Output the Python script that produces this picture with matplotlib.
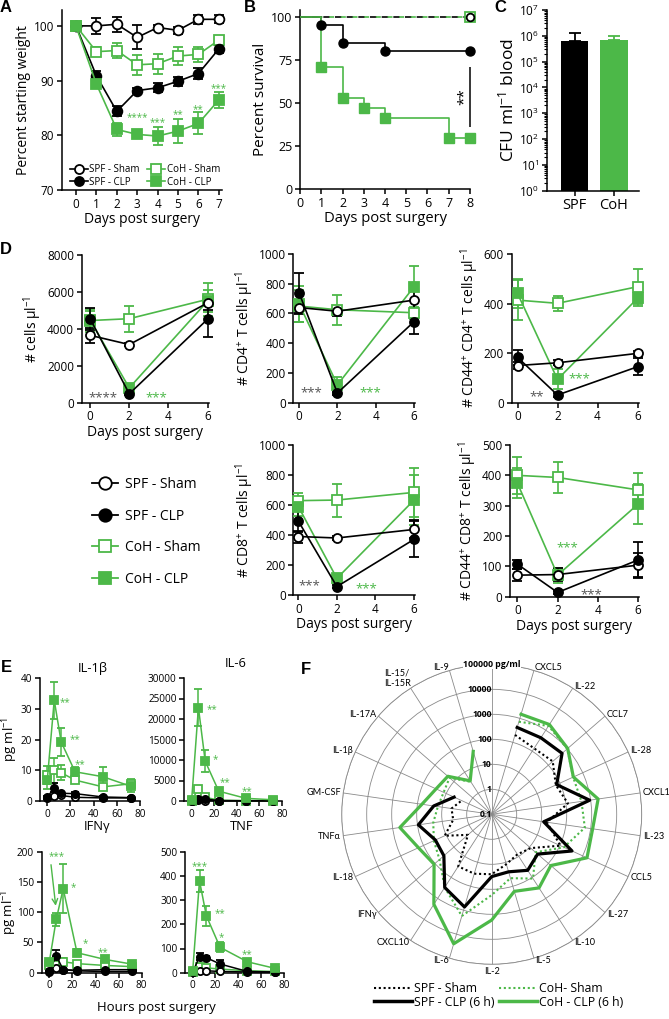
import numpy as np
import matplotlib
matplotlib.use('Agg')
import matplotlib.pyplot as plt
from matplotlib.lines import Line2D
from matplotlib.ticker import LogLocator, NullFormatter

plt.rcParams['font.family'] = ['Open Sans', 'DejaVu Sans']
plt.rcParams['mathtext.fontset'] = 'custom'
plt.rcParams['mathtext.rm'] = 'Open Sans'
plt.rcParams['mathtext.it'] = 'Open Sans:italic'
plt.rcParams['mathtext.bf'] = 'Open Sans:bold'
plt.rcParams['axes.linewidth'] = 1.1

GREEN = '#4cb848'
STAR_GRAY = '#555555'

# ---------------- Panel A data ----------------
A_days = [0, 1, 2, 3, 4, 5, 6, 7]
A_spf_sham = [100, 100, 100.3, 97.9, 99.7, 99.2, 101.2, 101.2]
A_spf_sham_err = [0, 1.4, 1.4, 2.2, 0.4, 0.6, 0.8, 0.7]
A_spf_clp = [100, 90.9, 84.4, 88.2, 88.7, 89.9, 91.3, 95.8]
A_spf_clp_err = [0, 0.8, 0.9, 0.5, 0.8, 0.8, 1.0, 0.8]
A_coh_sham = [100, 95.3, 95.5, 92.9, 93.1, 94.5, 94.8, 97.4]
A_coh_sham_err = [0, 0.8, 1.3, 1.8, 1.8, 1.6, 1.3, 0.8]
A_coh_clp = [100, 89.4, 81.1, 80.2, 79.9, 80.8, 82.2, 86.5]
A_coh_clp_err = [0, 0.6, 1.2, 0.5, 1.6, 2.2, 2.0, 1.4]
A_star_days = [3, 4, 5, 6, 7]
A_star_y = [83.8, 82.8, 84.3, 85.3, 89.1]
A_star_txt = ['****', '***', '**', '**', '***']

# ---------------- Panel B data ----------------
B_sham_t = [0, 8]
B_sham_s = [100, 100]
B_spf_clp_t = [0, 1, 2, 4, 8]
B_spf_clp_s = [100, 95, 85, 80, 80]
B_coh_clp_t = [0, 1, 2, 3, 4, 7, 8]
B_coh_clp_s = [100, 70.6, 52.9, 47.1, 41.2, 29.4, 29.4]
B_sig_x = 8
B_sig_range = [36, 71]

# ---------------- Panel C data ----------------
C_groups = ['SPF', 'CoH']
C_cfu = [6.3e5, 6.9e5]
C_cfu_err = [6.3e5, 3.1e5]

# ---------------- Panel D data ----------------
D_days = [0, 2, 6]
D1_spf_sham = [3650, 3150, 5400]; D1_spf_sham_err = [400, 100, 400]
D1_spf_clp = [4550, 480, 4520]; D1_spf_clp_err = [600, 60, 950]
D1_coh_sham = [4450, 4550, 5600]; D1_coh_sham_err = [600, 700, 900]
D1_coh_clp = [4480, 800, 5500]; D1_coh_clp_err = [500, 150, 600]

D2_spf_sham = [640, 615, 690]; D2_spf_sham_err = [45, 35, 100]
D2_spf_clp = [740, 65, 545]; D2_spf_clp_err = [135, 10, 85]
D2_coh_sham = [650, 625, 605]; D2_coh_sham_err = [110, 100, 40]
D2_coh_clp = [665, 120, 780]; D2_coh_clp_err = [120, 55, 140]

D3_spf_sham = [150, 161, 199]; D3_spf_sham_err = [15, 10, 10]
D3_spf_clp = [183, 31, 145]; D3_spf_clp_err = [30, 8, 35]
D3_coh_sham = [414, 401, 468]; D3_coh_sham_err = [80, 30, 70]
D3_coh_clp = [441, 94, 421]; D3_coh_clp_err = [60, 40, 30]

D4_spf_sham = [390, 380, 437]; D4_spf_sham_err = [40, 15, 60]
D4_spf_clp = [493, 56, 371]; D4_spf_clp_err = [75, 10, 120]
D4_coh_sham = [629, 633, 684]; D4_coh_sham_err = [50, 110, 165]
D4_coh_clp = [590, 111, 633]; D4_coh_clp_err = [60, 30, 165]

D5_spf_sham = [71, 73, 104]; D5_spf_sham_err = [20, 20, 40]
D5_spf_clp = [107, 14, 121]; D5_spf_clp_err = [15, 5, 60]
D5_coh_sham = [400, 393, 352]; D5_coh_sham_err = [60, 50, 55]
D5_coh_clp = [374, 71, 305]; D5_coh_clp_err = [50, 25, 65]

D_ylabels = ['# cells \u03bcl$^{-1}$', '# CD4$^{+}$ T cells \u03bcl$^{-1}$',
             '# CD44$^{+}$ CD4$^{+}$ T cells \u03bcl$^{-1}$',
             '# CD8$^{+}$ T cells \u03bcl$^{-1}$',
             '# CD44$^{+}$ CD8$^{+}$ T cells \u03bcl$^{-1}$']
D_ymax = [8000, 1000, 600, 1000, 500]
D_ystep = [2000, 200, 200, 200, 100]
D_stars = [[(0.65, 470, '****', 'k'), (3.4, 470, '***', 'g')],
           [(0.65, 92, '***', 'k'), (3.7, 92, '***', 'g')],
           [(0.95, 38, '**', 'k'), (3.1, 112, '***', 'g')],
           [(0.55, 88, '***', 'k'), (3.55, 70, '***', 'g')],
           [(2.5, 174, '***', 'g'), (3.7, 20, '***', 'k')]]

# ---------------- Panel E data ----------------
E_hours = [0, 6, 12, 24, 48, 72]
E_il1b_coh_clp = [6.8, 32.8, 19.2, 9.5, 7.9, 4.8]; E_il1b_coh_clp_err = [3, 6, 4.5, 1.5, 3.2, 2]
E_il1b_coh_sham = [8.4, 10, 9.2, 6.8, 4.6, 5.6]; E_il1b_coh_sham_err = [3, 4, 2.5, 1, 1, 1.5]
E_il1b_spf_clp = [1.2, 4.3, 2.5, 2.4, 1.3, 1.1]; E_il1b_spf_clp_err = [0.3, 1.5, 0.5, 0.4, 0.3, 0.2]
E_il1b_spf_sham = [1.0, 1.5, 1.8, 1.2, 1.0, 1.0]; E_il1b_spf_sham_err = [0.2, 0.3, 0.3, 0.2, 0.2, 0.2]

E_il6_coh_clp = [200, 22800, 9700, 2400, 650, 300]; E_il6_coh_clp_err = [100, 4500, 2700, 600, 200, 100]
E_il6_coh_sham = [100, 3000, 900, 200, 100, 100]; E_il6_coh_sham_err = [50, 600, 300, 50, 30, 30]
E_il6_spf_clp = [50, 400, 500, 100, 50, 50]; E_il6_spf_clp_err = [20, 100, 100, 30, 20, 20]
E_il6_spf_sham = [50, 150, 100, 50, 50, 50]; E_il6_spf_sham_err = [20, 50, 30, 20, 20, 20]

E_ifng_coh_clp = [18, 88, 139, 33, 22, 14]; E_ifng_coh_clp_err = [5, 10, 40, 6, 4, 3]
E_ifng_coh_sham = [12, 12, 18, 15, 12, 10]; E_ifng_coh_sham_err = [4, 4, 6, 4, 3, 3]
E_ifng_spf_clp = [2, 28, 5, 4, 5, 5]; E_ifng_spf_clp_err = [1, 9, 2, 1, 1, 1]
E_ifng_spf_sham = [1, 8, 5, 3, 2, 2]; E_ifng_spf_sham_err = [0.5, 3, 2, 1, 1, 1]

E_tnf_coh_clp = [5, 380, 235, 105, 45, 18]; E_tnf_coh_clp_err = [2, 45, 40, 20, 8, 5]
E_tnf_coh_sham = [3, 25, 20, 15, 8, 5]; E_tnf_coh_sham_err = [1, 8, 6, 4, 2, 2]
E_tnf_spf_clp = [2, 66, 62, 36, 5, 3]; E_tnf_spf_clp_err = [1, 15, 8, 15, 2, 1]
E_tnf_spf_sham = [2, 5, 8, 5, 3, 2]; E_tnf_spf_sham_err = [1, 2, 2, 2, 1, 1]

E_titles = ['IL-1\u03b2', 'IL-6', 'IFN\u03b3', 'TNF']
E_ymax = [40, 30000, 200, 500]
E_ystep = [10, 5000, 50, 100]
E_stars = [[(15.3, 33.1, '**'), (23.9, 21, '**'), (28, 12.9, '**')],
           [(17.8, 23100, '**'), (20.7, 10800, '*'), (29.6, 5300, '**'), (48.6, 3100, '**')],
           [(6.4, 196, '***'), (20.8, 145, '*'), (31, 53, '*'), (46.8, 37.5, '**')],
           [(6.4, 452, '***'), (24, 255, '**'), (25.4, 156, '*'), (47.4, 87, '**')]]
E_ifng_arrow_from = (1.2, 183)
E_ifng_arrow_to = (5.8, 106)

# ---------------- Panel F data ----------------
F_cytokines = ['CXCL5', 'IL-22', 'CCL7', 'IL-28', 'CXCL1', 'IL-23', 'CCL5', 'IL-27',
               'IL-10', 'IL-5', 'IL-2', 'IL-6', 'CXCL10', 'IFN\u03b3', 'IL-18',
               'TNF\u03b1', 'GM-CSF', 'IL-1\u03b2', 'IL-17A', 'IL-15/\nIL-15R', 'IL-9']
nan = np.nan
F_spf_sham = [204, 137, 170, 66, 120, 17, 105, 11.6, 8, 12, 25, 30, 30, 1.8, 11.7,
              3.6, 4.2, 2.1, nan, nan, nan]
F_coh_sham = [720, 1600, 1000, 380, 424, 580, 150, 21, 114, 46, 170, 1740, 300, 58, 35,
              23, 15, 13, 17, 3.5, nan]
F_spf_clp = [417, 435, 530, 72, 910, 12.6, 340, 27, 46, 25, 31, 730, 300, 34, 30,
             92, 22, 4.5, nan, nan, nan]
F_coh_clp = [1480, 1860, 1050, 390, 2000, 1200, 1550, 135, 316, 163, 1700, 25000, 1900,
             112, 166, 515, 66, 28, 21, 3.9, 42]
F_ring_labels = ['0.1', '1', '10', '100', '1000', '10000']
F_top_label = '100000 pg/ml'

# ---------------- figure ----------------
W, H = 669, 1019
fig = plt.figure(figsize=(W / 100, H / 100), dpi=100)


def ax_px(l, t, r, b, **kw):
    return fig.add_axes([l / W, 1 - b / H, (r - l) / W, (b - t) / H], **kw)


def style(ax, fs):
    for s in ['top', 'right']:
        ax.spines[s].set_visible(False)
    ax.tick_params(labelsize=fs, width=1.1, length=3.5, pad=2)


def series(ax, x, y, e, color, marker, filled, ms, lw=1.2, cap=3.5, z=3):
    ax.errorbar(x, y, yerr=e, color=color, marker=marker, ms=ms,
                mfc=color if filled else 'white', mec=color, mew=1.3, lw=lw,
                capsize=cap, elinewidth=lw, capthick=lw, zorder=z, clip_on=False)


def handle(color, marker, filled, ms, lw=1.2):
    return Line2D([], [], color=color, marker=marker, ms=ms,
                  mfc=color if filled else 'white', mec=color, mew=1.3, lw=lw)


def stars(ax, x, y, s, color, fs, rot=0):
    # asterisks sit high in the font: shift the anchor down a little
    off = (0.3 * fs, 0) if rot else (0, -0.3 * fs)
    ax.annotate(s, (x, y), xytext=off, textcoords='offset points', color=color,
                fontsize=fs, ha='center', va='center', rotation=rot, annotation_clip=False)


def letter(x, y, s):
    fig.text(x / W, 1 - y / H, s, fontsize=12, fontweight='bold',
             family='Liberation Sans', ha='center', va='center')


# ---- A ----
axA = ax_px(61.7, 10, 221.7, 190.3)
style(axA, 8.5)
series(axA, A_days, A_spf_sham, A_spf_sham_err, 'k', 'o', False, 7)
series(axA, A_days, A_coh_sham, A_coh_sham_err, GREEN, 's', False, 7)
series(axA, A_days, A_spf_clp, A_spf_clp_err, 'k', 'o', True, 7)
series(axA, A_days, A_coh_clp, A_coh_clp_err, GREEN, 's', True, 7)
for d, yv, t in zip(A_star_days, A_star_y, A_star_txt):
    stars(axA, d, yv, t, GREEN, 7)
axA.set_xlim(-0.7, 7.14)
axA.set_ylim(70, 102.9)
axA.set_xticks(A_days)
axA.set_yticks([70, 80, 90, 100])
axA.set_xlabel('Days post surgery', fontsize=10, labelpad=1)
axA.set_ylabel('Percent starting weight', fontsize=10, labelpad=2)
axA.legend([handle('k', 'o', False, 6.5), handle('k', 'o', True, 6.5),
            handle(GREEN, 's', False, 6.5), handle(GREEN, 's', True, 6.5)],
           ['SPF - Sham', 'SPF - CLP', 'CoH - Sham', 'CoH - CLP'],
           ncol=2, loc='lower left', bbox_to_anchor=(0.05, 0.015), frameon=False,
           fontsize=7, handlelength=1.85, handletextpad=0.15, columnspacing=0.8,
           labelspacing=0.12, borderpad=0, borderaxespad=0)
letter(6, 8, 'A')

# ---- B ----
axB = ax_px(300, 10, 470, 189)
style(axB, 9)
axB.plot(B_sham_t, B_sham_s, color='k', lw=1.2, ls=(0, (4, 3)), zorder=2)
axB.plot(B_sham_t, B_sham_s, color=GREEN, lw=1.2, ls=(3.5, (3, 4)), zorder=2)
axB.step(B_spf_clp_t, B_spf_clp_s, where='post', color='k', lw=1.2, zorder=3)
axB.step(B_coh_clp_t, B_coh_clp_s, where='post', color=GREEN, lw=1.2, zorder=3)
axB.plot(B_spf_clp_t[1:], B_spf_clp_s[1:], 'o', color='k', ms=6.5, zorder=4, clip_on=False)
axB.plot(B_coh_clp_t[1:], B_coh_clp_s[1:], 's', color=GREEN, ms=6.5, zorder=4, clip_on=False)
axB.plot(B_sham_t[-1:], B_sham_s[-1:], 's', mfc='white', mec=GREEN, mew=1.3, ms=6.5, zorder=4, clip_on=False)
axB.plot(B_sham_t[-1:], B_sham_s[-1:], 'o', mfc='none', mec='k', mew=1.3, ms=5.5, zorder=5, clip_on=False)
axB.vlines(B_sig_x, B_sig_range[0], B_sig_range[1], color='k', lw=1.1, clip_on=False)
stars(axB, B_sig_x - 0.5, np.mean(B_sig_range), '**', 'k', 11, rot=90)
axB.set_xlim(0, 8)
axB.set_ylim(0, 103.9)
axB.set_xticks(range(0, 9))
axB.set_yticks([0, 25, 50, 75, 100])
axB.set_xlabel('Days post surgery', fontsize=10.6, labelpad=1)
axB.set_ylabel('Percent survival', fontsize=11, labelpad=2)
letter(250, 8, 'B')

# ---- C ----
axC = ax_px(546.7, 10, 639.3, 190.7)
style(axC, 8.5)
colsC = ['k', GREEN]
for i in range(2):
    axC.bar(i, C_cfu[i], width=0.7, color=colsC[i], zorder=2)
    axC.errorbar(i, C_cfu[i], yerr=[[0], [C_cfu_err[i]]], color=colsC[i], capsize=4,
                 elinewidth=1.3, capthick=1.3, zorder=1)
axC.set_yscale('log')
axC.set_ylim(1, 1e7)
axC.set_xlim(-0.71, 1.65)
axC.yaxis.set_major_locator(LogLocator(base=10, numticks=10))
axC.yaxis.set_minor_locator(LogLocator(base=10, subs=np.arange(2, 10), numticks=20))
axC.yaxis.set_minor_formatter(NullFormatter())
axC.tick_params(which='minor', length=2.2, width=0.8)
axC.set_xticks([0, 1])
axC.set_xticklabels(C_groups, fontsize=10.5)
axC.set_ylabel('CFU ml$^{-1}$ blood', fontsize=12.5, labelpad=1)
letter(500, 8, 'C')

# ---- D ----
D_data = [
    (D1_spf_sham, D1_spf_sham_err, D1_spf_clp, D1_spf_clp_err, D1_coh_sham, D1_coh_sham_err, D1_coh_clp, D1_coh_clp_err),
    (D2_spf_sham, D2_spf_sham_err, D2_spf_clp, D2_spf_clp_err, D2_coh_sham, D2_coh_sham_err, D2_coh_clp, D2_coh_clp_err),
    (D3_spf_sham, D3_spf_sham_err, D3_spf_clp, D3_spf_clp_err, D3_coh_sham, D3_coh_sham_err, D3_coh_clp, D3_coh_clp_err),
    (D4_spf_sham, D4_spf_sham_err, D4_spf_clp, D4_spf_clp_err, D4_coh_sham, D4_coh_sham_err, D4_coh_clp, D4_coh_clp_err),
    (D5_spf_sham, D5_spf_sham_err, D5_spf_clp, D5_spf_clp_err, D5_coh_sham, D5_coh_sham_err, D5_coh_clp, D5_coh_clp_err),
]
D_boxes = [(81.7, 255, 208.5, 402.7), (293.3, 254, 415, 402.7), (511.7, 254, 638.5, 402.7),
           (293.3, 445, 415, 595), (510, 445, 639, 596.7)]
D_xl = [-0.43, -0.3, -0.29, -0.26, -0.37]
D_xlabel = [True, False, False, True, True]
for k in range(5):
    ax = ax_px(*D_boxes[k])
    style(ax, 8.5)
    ss, sse, sc, sce, cs, cse, cc, cce = D_data[k]
    series(ax, D_days, cs, cse, GREEN, 's', False, 6.5, cap=3.5)
    series(ax, D_days, cc, cce, GREEN, 's', True, 6.5, cap=3.5)
    series(ax, D_days, ss, sse, 'k', 'o', False, 6.5, cap=3.5)
    series(ax, D_days, sc, sce, 'k', 'o', True, 6.5, cap=3.5)
    for (xs, ys, t, c) in D_stars[k]:
        stars(ax, xs, ys, t, GREEN if c == 'g' else STAR_GRAY, 9.5)
    ax.set_xlim(D_xl[k], 6.05)
    ax.set_ylim(0, D_ymax[k])
    ax.set_xticks([0, 2, 4, 6])
    ax.set_yticks(np.arange(0, D_ymax[k] + 1, D_ystep[k]))
    ax.set_ylabel(D_ylabels[k], fontsize=10, labelpad=2)
    if D_xlabel[k]:
        ax.set_xlabel('Days post surgery', fontsize=10, labelpad=1)
letter(6, 249, 'D')

fig.legend([handle('k', 'o', False, 9, 1.3), handle('k', 'o', True, 9, 1.3),
            handle(GREEN, 's', False, 9, 1.3), handle(GREEN, 's', True, 9, 1.3)],
           ['SPF - Sham', 'SPF - CLP', 'CoH - Sham', 'CoH - CLP'],
           loc='upper left', bbox_to_anchor=(92 / W, 1 - 477 / H), frameon=False,
           fontsize=10, handlelength=1.85, handletextpad=0.55, labelspacing=1.2,
           borderpad=0, borderaxespad=0)

# ---- E ----
E_data = [
    (E_il1b_spf_sham, E_il1b_spf_sham_err, E_il1b_spf_clp, E_il1b_spf_clp_err, E_il1b_coh_sham, E_il1b_coh_sham_err, E_il1b_coh_clp, E_il1b_coh_clp_err),
    (E_il6_spf_sham, E_il6_spf_sham_err, E_il6_spf_clp, E_il6_spf_clp_err, E_il6_coh_sham, E_il6_coh_sham_err, E_il6_coh_clp, E_il6_coh_clp_err),
    (E_ifng_spf_sham, E_ifng_spf_sham_err, E_ifng_spf_clp, E_ifng_spf_clp_err, E_ifng_coh_sham, E_ifng_coh_sham_err, E_ifng_coh_clp, E_ifng_coh_clp_err),
    (E_tnf_spf_sham, E_tnf_spf_sham_err, E_tnf_spf_clp, E_tnf_spf_clp_err, E_tnf_coh_sham, E_tnf_coh_sham_err, E_tnf_coh_clp, E_tnf_coh_clp_err),
]
E_boxes = [(39.5, 678, 140, 801), (184.3, 678, 282, 801),
           (41.7, 851.7, 141.7, 972.7), (185, 851.7, 284, 972.7)]
E_xl = [-6.7, -6.5, -6.6, -6.7]
E_title_pos = [(93, 672), (236, 667), (97, 830), (242, 830)]
E_ylab_x = [-0.19, None, -0.23, None]
E_axes = []
for k in range(4):
    ax = ax_px(*E_boxes[k])
    style(ax, 7.2)
    ss, sse, sc, sce, cs, cse, cc, cce = E_data[k]
    series(ax, E_hours, cs, cse, GREEN, 's', False, 5.2, lw=1.1, cap=3)
    series(ax, E_hours, ss, sse, 'k', 'o', False, 5.2, lw=1.1, cap=3)
    series(ax, E_hours, sc, sce, 'k', 'o', True, 5.2, lw=1.1, cap=3)
    series(ax, E_hours, cc, cce, GREEN, 's', True, 5.2, lw=1.1, cap=3)
    for (xs, ys, t) in E_stars[k]:
        stars(ax, xs, ys, t, GREEN, 7)
    ax.set_xlim(E_xl[k], 80)
    ax.set_ylim(0, E_ymax[k])
    ax.set_xticks([0, 20, 40, 60, 80])
    ax.set_yticks(np.arange(0, E_ymax[k] + 1, E_ystep[k]))
    fig.text(E_title_pos[k][0] / W, 1 - E_title_pos[k][1] / H, E_titles[k],
             fontsize=9.3, ha='center', va='baseline')
    if E_ylab_x[k] is not None:
        ax.set_ylabel('pg ml$^{-1}$', fontsize=9.5)
        ax.yaxis.set_label_coords(E_ylab_x[k], 0.5)
    E_axes.append(ax)
E_axes[2].annotate('', xy=E_ifng_arrow_to, xytext=E_ifng_arrow_from,
                   arrowprops=dict(arrowstyle='->', color=GREEN, lw=1.0))
fig.text(156 / W, 1 - 1008 / H, 'Hours post surgery', fontsize=9.5, ha='center', va='center')
letter(6, 668, 'E')

# ---- F ----
cx, cy, R = 491.7, 814.3, 150
axF = ax_px(cx - R, cy - R, cx + R, cy + R, projection='polar')
n_sp = len(F_cytokines) + 1
spokes = 2 * np.pi * np.arange(n_sp) / n_sp
theta = spokes[1:]
axF.set_theta_zero_location('N')
axF.set_theta_direction(-1)
axF.set_ylim(0, 6)
axF.set_xticks(spokes)
axF.set_xticklabels([])
axF.set_yticks([1, 2, 3, 4, 5, 6])
axF.set_yticklabels([])
axF.grid(color='#8a8a8a', lw=0.6)
axF.spines['polar'].set_color('#8a8a8a')
axF.spines['polar'].set_linewidth(0.6)


def rlog(v):
    return np.log10(np.asarray(v, dtype=float)) + 1


axF.plot(theta, rlog(F_spf_sham), color='k', lw=1.5, ls=(0, (1, 1.3)), zorder=3)
axF.plot(theta, rlog(F_coh_sham), color=GREEN, lw=1.5, ls=(0, (1, 1.3)), zorder=3)
axF.plot(theta, rlog(F_spf_clp), color='k', lw=2.3, zorder=4)
axF.plot(theta, rlog(F_coh_clp), color=GREEN, lw=2.3, zorder=5)
for i, lab in enumerate(F_ring_labels):
    axF.text(0, i, lab, ha='right', va='center', fontsize=6.2, fontweight='bold', zorder=6)
axF.text(0, 6, F_top_label, ha='center', va='center', fontsize=6.3, fontweight='bold',
         zorder=6, bbox=dict(facecolor='white', edgecolor='none', pad=0.3))
for th, lab in zip(theta, F_cytokines):
    s, c = np.sin(th), np.cos(th)
    ha = 'left' if s > 0.05 else ('right' if s < -0.05 else 'center')
    va = 'center'
    r = 6.1
    if abs(s) < 0.05:
        va = 'top' if c < 0 else 'bottom'
        r = 6.1
    if '\n' in lab:
        va = 'bottom'
        r = 6.0
    axF.text(th, r, lab, ha=ha, va=va, fontsize=6.6, multialignment='left',
             family=['Lato', 'DejaVu Sans'])
letter(306, 669, 'F')

fig.legend([Line2D([], [], color='k', lw=1.5, ls=(0, (1, 1.3))),
            Line2D([], [], color='k', lw=2.5),
            Line2D([], [], color=GREEN, lw=1.5, ls=(0, (1, 1.3))),
            Line2D([], [], color=GREEN, lw=2.5)],
           ['SPF - Sham', 'SPF - CLP (6 h)', 'CoH- Sham', 'CoH - CLP (6 h)'],
           ncol=2, loc='upper left', bbox_to_anchor=(374 / W, 1 - 982 / H), frameon=False,
           fontsize=8.8, handlelength=3.1, handletextpad=0.15, columnspacing=0.4,
           labelspacing=0.05, borderpad=0, borderaxespad=0)

fig.savefig('out.png', dpi=100)
